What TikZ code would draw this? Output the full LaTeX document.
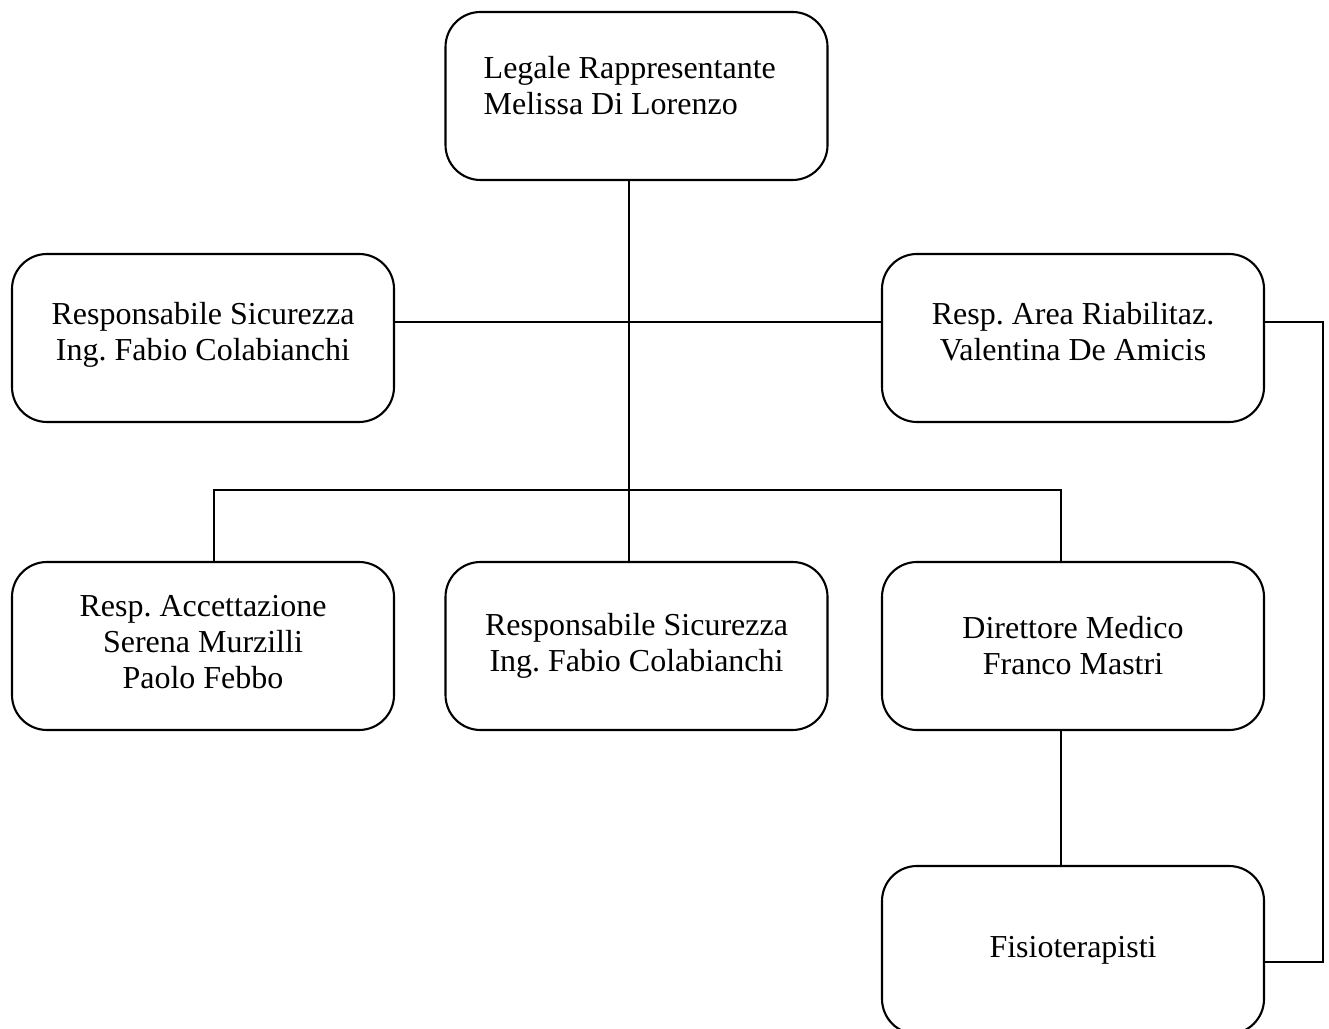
\documentclass[tikz,border=0pt]{standalone}
\usepackage{fontspec}
\setmainfont{Liberation Serif}
\usetikzlibrary{positioning}

\tikzset{
  orgbox/.style={draw, line width=0.6pt, rounded corners=0.35cm,
    minimum width=3.82cm, minimum height=1.68cm, align=center},
  orgline/.style={line width=0.6pt},
}

\begin{document}
\frenchspacing
\begin{tikzpicture}[font=\fontsize{9.1pt}{10.24pt}\selectfont]
  \clip (0,0) rectangle (13.29,10.28);
  % boxes
  \node[orgbox] (legale) at (6.365,9.32) {};
  \node[anchor=west, align=left, inner sep=0pt] (legaletext) at (4.83,9.42)
    {Legale Rappresentante\\Melissa Di Lorenzo};
  \node[orgbox, text depth=0.14cm] (sicur1) at (2.03,6.90) {Responsabile Sicurezza\\Ing. Fabio Colabianchi};
  \node[orgbox, text depth=0.14cm] (riabil) at (10.73,6.90) {Resp. Area Riabilitaz.\\Valentina De Amicis};
  \node[orgbox, text depth=0.08cm] (accett) at (2.03,3.82) {Resp. Accettazione\\Serena Murzilli\\Paolo Febbo};
  \node[orgbox] (sicur2) at (6.365,3.82) {Responsabile Sicurezza\\Ing. Fabio Colabianchi};
  \node[orgbox] (dirett) at (10.73,3.82) {Direttore Medico\\Franco Mastri};
  \node[orgbox] (fisio) at (10.73,0.78) {Fisioterapisti};
  % connectors
  \coordinate (spine) at (6.29,7.06);
  \coordinate (busl) at (2.14,5.38);
  \coordinate (busr) at (10.61,5.38);
  \coordinate (loopt) at (13.23,7.06);
  \coordinate (loopb) at (13.23,0.66);
  \draw[orgline] (legale.south -| spine) -- (sicur2.north -| spine);
  \draw[orgline] (sicur1.east |- spine) -- (riabil.west |- spine);
  \draw[orgline] (accett.north -| busl) -- (busl) -- (busr) -- (dirett.north -| busr);
  \draw[orgline] (dirett.south -| busr) -- (fisio.north -| busr);
  \draw[orgline] (riabil.east |- loopt) -- (loopt) -- (loopb) -- (fisio.east |- loopb);
\end{tikzpicture}
\end{document}
